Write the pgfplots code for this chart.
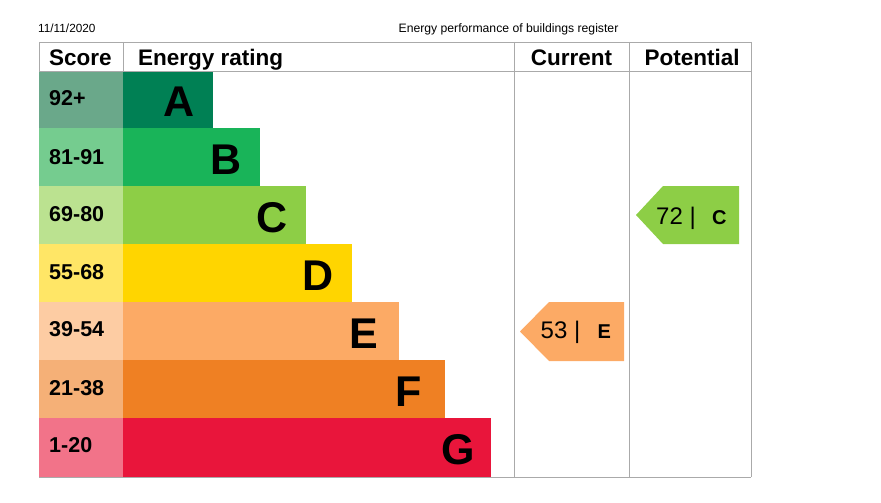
\documentclass[border=0pt]{standalone}
\usepackage{pgfplots}
\pgfplotsset{compat=1.18}
\usepackage{fontspec}
\setmainfont{Liberation Sans}
\definecolor{cA}{RGB}{0,128,84}
\definecolor{cB}{RGB}{25,180,89}
\definecolor{cC}{RGB}{141,206,70}
\definecolor{cD}{RGB}{255,213,0}
\definecolor{cE}{RGB}{252,170,101}
\definecolor{cF}{RGB}{239,128,35}
\definecolor{cG}{RGB}{233,21,59}
\definecolor{sA}{RGB}{106,168,138}
\definecolor{sB}{RGB}{117,204,143}
\definecolor{gridc}{RGB}{170,170,170}
\pgfplotsset{
  band/.style={xbar, bar width=58.5, bar shift=0pt, draw=none, fill=#1},
}
\newcommand{\epchdr}{\fontsize{22.5}{22.5}\selectfont\bfseries}
\newcommand{\epcsc}{\fontsize{21.5}{21.5}\selectfont\bfseries}
\newcommand{\epcbig}{\fontsize{43}{43}\selectfont\bfseries}
\newcommand{\epcarr}{\fontsize{24}{24}\selectfont}
\newcommand{\epcarrb}{\fontsize{20}{20}\selectfont\bfseries}
\begin{document}
\begin{tikzpicture}
\begin{axis}[
  width=881pt, height=503pt, scale only axis,
  xmin=-123, xmax=758, ymin=0, ymax=503, y dir=reverse,
  hide axis, clip=false,
]
\path (rel axis cs:0,0) rectangle (rel axis cs:1,1);
% score cells (x measured from the score/rating divider)
\addplot[band=sA] coordinates {(-84,100)};
\addplot[band=sB] coordinates {(-84,157.5)};
\addplot[band=cC!60!white] coordinates {(-84,215)};
\addplot[band=cD!60!white] coordinates {(-84,273)};
\addplot[band=cE!60!white] coordinates {(-84,331)};
\addplot[band=cF!62!white] coordinates {(-84,389)};
\addplot[band=cG!60!white] coordinates {(-84,447.5)};
% rating bars
\addplot[band=cA] coordinates {(90,100)};
\addplot[band=cB] coordinates {(137,157.5)};
\addplot[band=cC] coordinates {(183,215)};
\addplot[band=cD] coordinates {(229,273)};
\addplot[band=cE] coordinates {(276,331)};
\addplot[band=cF] coordinates {(322,389)};
\addplot[band=cG] coordinates {(368,447.5)};
% current (53, E) and potential (72, C) arrows
\addplot[fill=cE, draw=none] coordinates {(397,331.5) (426,302) (501,302) (501,361) (426,361)} -- cycle;
\addplot[fill=cC, draw=none] coordinates {(513,215) (540,186) (616,186) (616,244) (540,244)} -- cycle;
% table lines
\draw[gridc, line width=0.9pt] (axis cs:-84,42) -- (axis cs:628,42);
\draw[gridc, line width=0.9pt] (axis cs:-84,71) -- (axis cs:628,71);
\draw[gridc, line width=0.9pt] (axis cs:-84,477) -- (axis cs:628,477);
\draw[gridc, line width=0.9pt] (axis cs:-84,42) -- (axis cs:-84,71);
\draw[gridc, line width=0.9pt] (axis cs:0,42) -- (axis cs:0,71);
\draw[gridc, line width=0.9pt] (axis cs:391,42) -- (axis cs:391,477);
\draw[gridc, line width=0.9pt] (axis cs:506,42) -- (axis cs:506,477);
\draw[gridc, line width=0.9pt] (axis cs:628,42) -- (axis cs:628,477);
% top texts
\node[anchor=base west, inner sep=0, font=\fontsize{11.8}{11.8}\selectfont] at (axis cs:-85,32.5) {11/11/2020};
\node[anchor=base, inner sep=0, font=\fontsize{12.2}{12.2}\selectfont] at (axis cs:385.5,32.5) {Energy performance of buildings register};
% headers
\node[anchor=base west, inner sep=0, font=\epchdr] at (axis cs:-74,66) {Score};
\node[anchor=base west, inner sep=0, font=\epchdr] at (axis cs:15,66) {Energy rating};
\node[anchor=base, inner sep=0, font=\epchdr] at (axis cs:448.5,66) {Current};
\node[anchor=base, inner sep=0, font=\epchdr] at (axis cs:569,66) {Potential};
% score labels
\node[anchor=base west, inner sep=0, font=\epcsc] at (axis cs:-74,106) {92+};
\node[anchor=base west, inner sep=0, font=\epcsc] at (axis cs:-74,164.3) {81-91};
\node[anchor=base west, inner sep=0, font=\epcsc] at (axis cs:-74,221.7) {69-80};
\node[anchor=base west, inner sep=0, font=\epcsc] at (axis cs:-74,279.3) {55-68};
\node[anchor=base west, inner sep=0, font=\epcsc] at (axis cs:-74,336.7) {39-54};
\node[anchor=base west, inner sep=0, font=\epcsc] at (axis cs:-74,395) {21-38};
\node[anchor=base west, inner sep=0, font=\epcsc] at (axis cs:-74,452.7) {1-20};
% band letters
\node[anchor=base west, inner sep=0, font=\epcbig] at (axis cs:40,117) {A};
\node[anchor=base west, inner sep=0, font=\epcbig] at (axis cs:87,174.5) {B};
\node[anchor=base west, inner sep=0, font=\epcbig] at (axis cs:133,232) {C};
\node[anchor=base west, inner sep=0, font=\epcbig] at (axis cs:179,290) {D};
\node[anchor=base west, inner sep=0, font=\epcbig] at (axis cs:226,348) {E};
\node[anchor=base west, inner sep=0, font=\epcbig] at (axis cs:272,406) {F};
\node[anchor=base west, inner sep=0, font=\epcbig] at (axis cs:318,464) {G};
% arrow labels
\node[anchor=base west, inner sep=0, font=\epcarr] at (axis cs:417.5,338.5) {53 |};
\node[anchor=base west, inner sep=0, font=\epcarrb] at (axis cs:474.5,338.5) {E};
\node[anchor=base west, inner sep=0, font=\epcarr] at (axis cs:533,224) {72 |};
\node[anchor=base west, inner sep=0, font=\epcarrb] at (axis cs:589,224) {C};
\end{axis}
\end{tikzpicture}
\end{document}
